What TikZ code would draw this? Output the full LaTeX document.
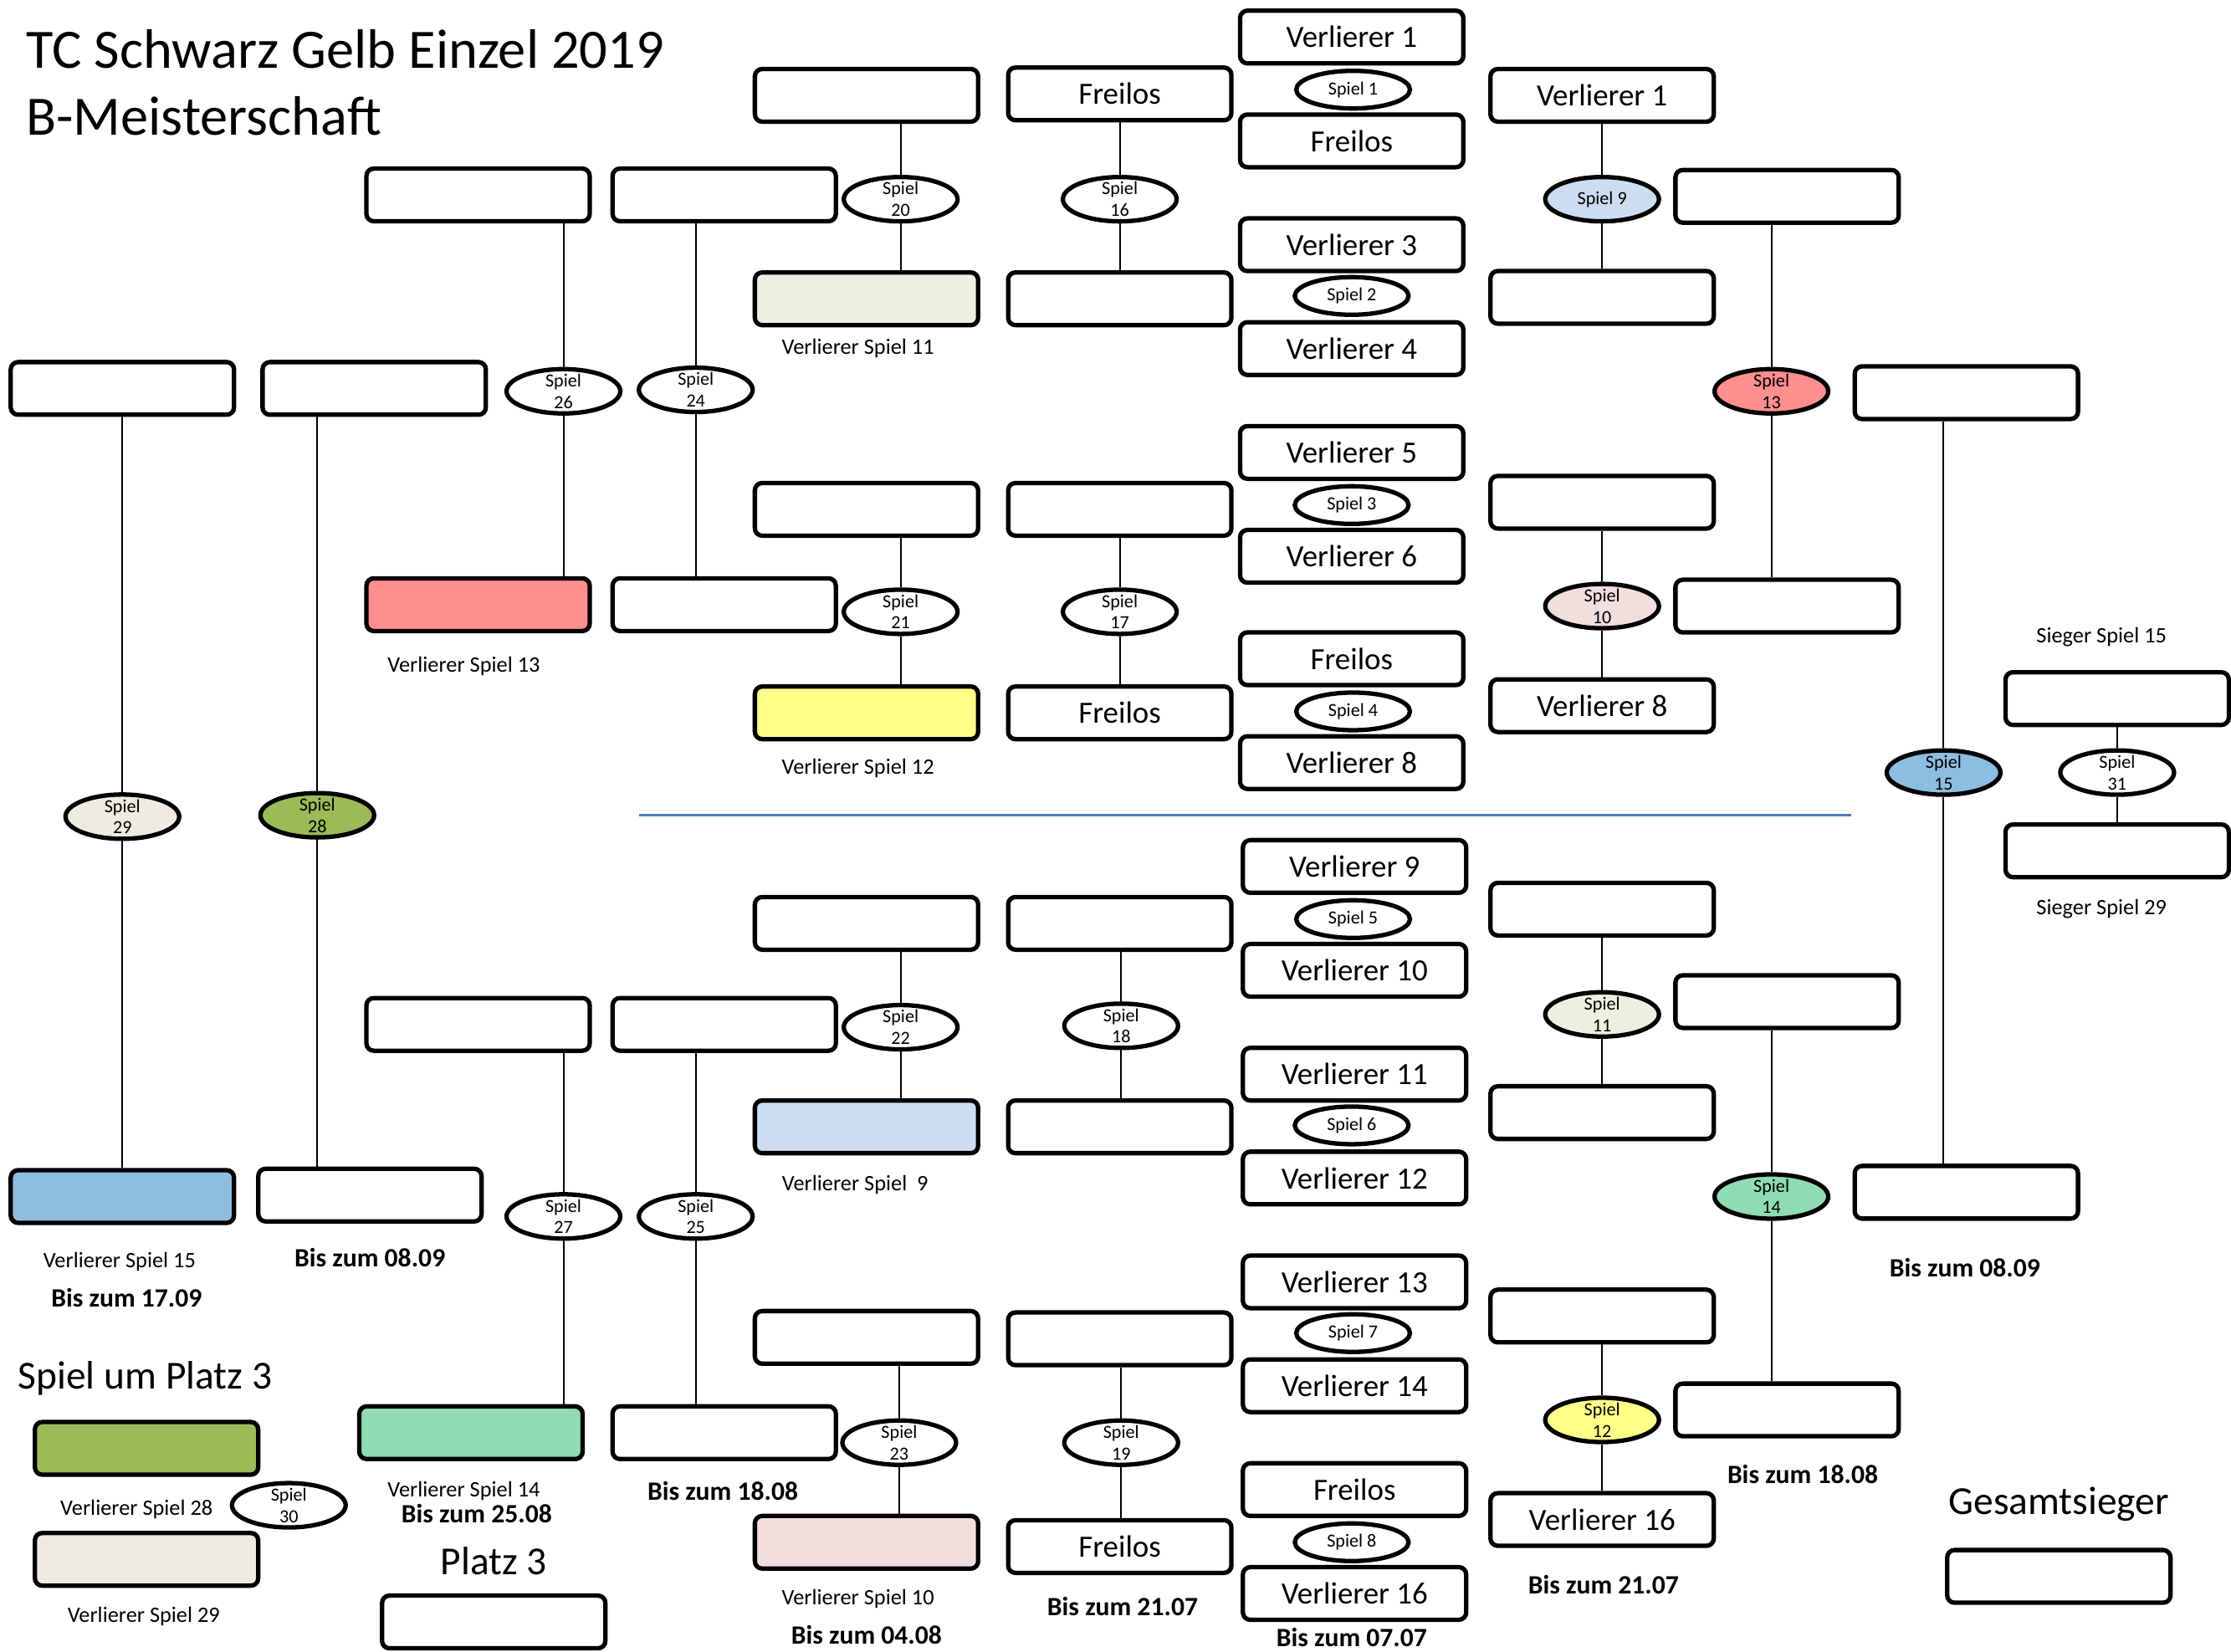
\documentclass[tikz,border=0pt]{standalone}
\usepackage{fontspec}
\setmainfont{Carlito}
\usepackage{xcolor}
\usetikzlibrary{shapes.geometric}

\definecolor{hellgruen}{HTML}{EBF1DE}
\definecolor{gelb}{HTML}{FFFF8A}
\definecolor{rot}{HTML}{FF8E8E}
\definecolor{hellblau}{HTML}{CCDCF1}
\definecolor{rosa}{HTML}{F2DEDD}
\definecolor{mint}{HTML}{8FDCB2}
\definecolor{oliv}{HTML}{9BBB59}
\definecolor{beige}{HTML}{EEECE1}
\definecolor{blau}{HTML}{8EBDE2}
\definecolor{trenner}{HTML}{4A7EBB}

\begin{document}
\begin{tikzpicture}[x=0.01701cm,y=-0.01701cm,
    feld/.style={shape=rectangle,draw=black,rounded corners=2.5pt,line width=1.5pt,minimum width=2.67cm,minimum height=0.63cm,inner sep=0pt,font=\fontsize{10.5}{12}\selectfont},
    spiel/.style={shape=ellipse,draw=black,fill=white,line width=1.5pt,minimum width=1.36cm,minimum height=0.53cm,inner xsep=0pt,inner ysep=-2pt,align=center,font=\fontsize{6.3}{7.3}\selectfont},
    spielflach/.style={spiel,minimum height=0.45cm},
    lbl/.style={inner sep=0pt,font=\fontsize{7.5}{9}\selectfont},
    datum/.style={inner sep=0pt,font=\bfseries\fontsize{9}{11}\selectfont},
    gross/.style={inner sep=0pt,font=\fontsize{13.5}{16}\selectfont},
    link/.style={line width=0.6pt}]
\useasboundingbox (0,0) rectangle (1568,1161);

\node[inner sep=0pt,anchor=base west,font=\fontsize{18.9}{22}\selectfont] (titel) at (18,48) {TC Schwarz Gelb Einzel 2019};
\node[inner sep=0pt,anchor=base west,font=\fontsize{18.9}{22}\selectfont] (titel2) at (18,95) {B-Meisterschaft};

\node[feld] (g1) at (950,26) {Verlierer 1};
\node[spielflach] (s1) at (951,63) {Spiel 1};
\node[feld] (g2) at (950,99) {Freilos};
\node[feld] (g3) at (950,172) {Verlierer 3};
\node[spielflach] (s2) at (950,208) {Spiel 2};
\node[feld] (g4) at (950,245) {Verlierer 4};
\node[feld] (g5) at (950,318) {Verlierer 5};
\node[spielflach] (s3) at (950,355) {Spiel 3};
\node[feld] (g6) at (950,391) {Verlierer 6};
\node[feld] (g7) at (950,463) {Freilos};
\node[spielflach] (s4) at (951,500) {Spiel 4};
\node[feld] (g8) at (950,536) {Verlierer 8};
\node[feld] (g9) at (952,609) {Verlierer 9};
\node[spielflach] (s5) at (951,646) {Spiel 5};
\node[feld] (g10) at (952,682) {Verlierer 10};
\node[feld] (g11) at (952,755) {Verlierer 11};
\node[spielflach] (s6) at (950,791) {Spiel 6};
\node[feld] (g12) at (952,828) {Verlierer 12};
\node[feld] (g13) at (952,901) {Verlierer 13};
\node[spielflach] (s7) at (951,937) {Spiel 7};
\node[feld] (g14) at (952,974) {Verlierer 14};
\node[feld] (g15) at (952,1047) {Freilos};
\node[spielflach] (s8) at (950,1084) {Spiel 8};
\node[feld] (g16) at (952,1120) {Verlierer 16};
\node[datum] (d77) at (950,1151) {Bis zum 07.07};

\node[feld] (f1) at (787,66) {Freilos};
\node[spiel] (s16) at (787,140) {Spiel\\16};
\node[feld] (f2) at (787,210) {};
\node[feld] (f3) at (787,358) {};
\node[spiel] (s17) at (787,430) {Spiel\\17};
\node[feld] (f4) at (787,501) {Freilos};
\node[feld] (f5) at (787,649) {};
\node[spiel] (s18) at (788,721) {Spiel\\18};
\node[feld] (f6) at (787,792) {};
\node[feld] (f7) at (787,941) {};
\node[spiel] (s19) at (788,1014) {Spiel\\19};
\node[feld] (f8) at (787,1087) {Freilos};
\node[datum] (d217a) at (789,1129) {Bis zum 21.07};

\node[feld] (e1) at (609,67) {};
\node[spiel] (s20) at (633,140) {Spiel\\20};
\node[feld,fill=hellgruen] (e2) at (609,210) {};
\node[lbl] (v11) at (603,245) {Verlierer Spiel 11};
\node[feld] (e3) at (609,358) {};
\node[spiel] (s21) at (633,430) {Spiel\\21};
\node[feld,fill=gelb] (e4) at (609,501) {};
\node[lbl] (v12) at (603,540) {Verlierer Spiel 12};
\node[feld] (e5) at (609,649) {};
\node[spiel] (s22) at (633,722) {Spiel\\22};
\node[feld,fill=hellblau] (e6) at (609,792) {};
\node[lbl] (v9) at (601,833) {Verlierer Spiel\ \ 9};
\node[feld] (e7) at (609,940) {};
\node[spiel] (s23) at (632,1014) {Spiel\\23};
\node[feld,fill=rosa] (e8) at (609,1084) {};
\node[lbl] (v10) at (603,1124) {Verlierer Spiel 10};
\node[datum] (d48) at (609,1149) {Bis zum 04.08};

\node[feld] (d1) at (509,137) {};
\node[spiel] (s24) at (489,274) {Spiel\\24};
\node[feld] (d2) at (509,425) {};
\node[feld] (d3) at (509,720) {};
\node[spiel] (s25) at (489,855) {Spiel\\25};
\node[feld] (d4) at (509,1007) {};
\node[datum] (d188a) at (508,1048) {Bis zum 18.08};

\node[feld] (c1) at (336,137) {};
\node[spiel] (s26) at (396,275) {Spiel\\26};
\node[feld,fill=rot] (c2) at (336,425) {};
\node[lbl] (v13) at (326,468) {Verlierer Spiel 13};
\node[feld] (c3) at (336,720) {};
\node[spiel] (s27) at (396,855) {Spiel\\27};
\node[feld,fill=mint] (c4) at (331,1007) {};
\node[lbl] (v14) at (326,1048) {Verlierer Spiel 14};
\node[datum] (d258) at (335,1064) {Bis zum 25.08};

\node[feld] (b1) at (263,273) {};
\node[spiel,fill=oliv] (s28) at (223,573) {Spiel\\28};
\node[feld] (b2) at (260,840) {};
\node[datum] (d89a) at (260,884) {Bis zum 08.09};

\node[feld] (a1) at (86,273) {};
\node[spiel,fill=beige] (s29) at (86,574) {Spiel\\29};
\node[feld,fill=blau] (a2) at (86,841) {};
\node[lbl] (v15) at (84,887) {Verlierer Spiel 15};
\node[datum] (d179) at (89,912) {Bis zum 17.09};

\node[gross] (platz3) at (102,969) {Spiel um Platz 3};
\node[feld,fill=oliv] (p1) at (103,1018) {};
\node[lbl] (v28) at (96,1061) {Verlierer Spiel 28};
\node[spiel] (s30) at (203,1058) {Spiel\\30};
\node[feld,fill=beige] (p2) at (103,1096) {};
\node[lbl] (v29) at (101,1136) {Verlierer Spiel 29};
\node[gross] (platz) at (347,1097) {Platz 3};
\node[feld] (p3) at (347,1140) {};

\node[feld] (h1) at (1126,67) {Verlierer 1};
\node[spiel,fill=hellblau] (s9) at (1126,140) {Spiel 9};
\node[feld] (h2) at (1126,209) {};
\node[feld] (h3) at (1126,353) {};
\node[spiel,fill=rosa] (s10) at (1126,426) {Spiel\\10};
\node[feld] (h4) at (1126,496) {Verlierer 8};
\node[feld] (h5) at (1126,639) {};
\node[spiel,fill=hellgruen] (s11) at (1126,713) {Spiel\\11};
\node[feld] (h6) at (1126,782) {};
\node[feld] (h7) at (1126,925) {};
\node[spiel,fill=gelb] (s12) at (1126,998) {Spiel\\12};
\node[feld] (h8) at (1126,1068) {Verlierer 16};
\node[datum] (d217b) at (1127,1114) {Bis zum 21.07};

\node[feld] (i1) at (1256,138) {};
\node[spiel,fill=rot] (s13) at (1245,275) {Spiel\\13};
\node[feld] (i2) at (1256,426) {};
\node[feld] (i3) at (1256,704) {};
\node[spiel,fill=mint] (s14) at (1245,841) {Spiel\\14};
\node[feld] (i4) at (1256,991) {};
\node[datum] (d188b) at (1267,1036) {Bis zum 18.08};

\node[feld] (j1) at (1382,276) {};
\node[spiel,fill=blau] (s15) at (1366,543) {Spiel\\15};
\node[feld] (j2) at (1382,838) {};
\node[datum] (d89b) at (1381,891) {Bis zum 08.09};

\node[lbl] (sg15) at (1477,448) {Sieger Spiel 15};
\node[feld] (k1) at (1488,491) {};
\node[spiel] (s31) at (1488,543) {Spiel\\31};
\node[feld] (k2) at (1488,598) {};
\node[lbl] (sg29) at (1477,639) {Sieger Spiel 29};

\node[gross] (sieger) at (1447,1057) {Gesamtsieger};
\node[feld] (w) at (1447,1108) {};

\coordinate (tl) at (449,573);
\coordinate (tr) at (1301,573);
\draw[trenner,line width=0.8pt] (tl) -- (tr);

\draw[link] (f1.south -| s16) -- (s16.north) (s16.south) -- (f2.north -| s16);
\draw[link] (f3.south -| s17) -- (s17.north) (s17.south) -- (f4.north -| s17);
\draw[link] (f5.south -| s18) -- (s18.north) (s18.south) -- (f6.north -| s18);
\draw[link] (f7.south -| s19) -- (s19.north) (s19.south) -- (f8.north -| s19);
\draw[link] (e1.south -| s20) -- (s20.north) (s20.south) -- (e2.north -| s20);
\draw[link] (e3.south -| s21) -- (s21.north) (s21.south) -- (e4.north -| s21);
\draw[link] (e5.south -| s22) -- (s22.north) (s22.south) -- (e6.north -| s22);
\draw[link] (e7.south -| s23) -- (s23.north) (s23.south) -- (e8.north -| s23);
\draw[link] (d1.south -| s24) -- (s24.north) (s24.south) -- (d2.north -| s24);
\draw[link] (d3.south -| s25) -- (s25.north) (s25.south) -- (d4.north -| s25);
\draw[link] (c1.south -| s26) -- (s26.north) (s26.south) -- (c2.north -| s26);
\draw[link] (c3.south -| s27) -- (s27.north) (s27.south) -- (c4.north -| s27);
\draw[link] (b1.south -| s28) -- (s28.north) (s28.south) -- (b2.north -| s28);
\draw[link] (a1.south -| s29) -- (s29.north) (s29.south) -- (a2.north -| s29);
\draw[link] (h1.south -| s9) -- (s9.north) (s9.south) -- (h2.north -| s9);
\draw[link] (h3.south -| s10) -- (s10.north) (s10.south) -- (h4.north -| s10);
\draw[link] (h5.south -| s11) -- (s11.north) (s11.south) -- (h6.north -| s11);
\draw[link] (h7.south -| s12) -- (s12.north) (s12.south) -- (h8.north -| s12);
\draw[link] (i1.south -| s13) -- (s13.north) (s13.south) -- (i2.north -| s13);
\draw[link] (i3.south -| s14) -- (s14.north) (s14.south) -- (i4.north -| s14);
\draw[link] (j1.south -| s15) -- (s15.north) (s15.south) -- (j2.north -| s15);
\draw[link] (k1.south -| s31) -- (s31.north) (s31.south) -- (k2.north -| s31);
\end{tikzpicture}
\end{document}
